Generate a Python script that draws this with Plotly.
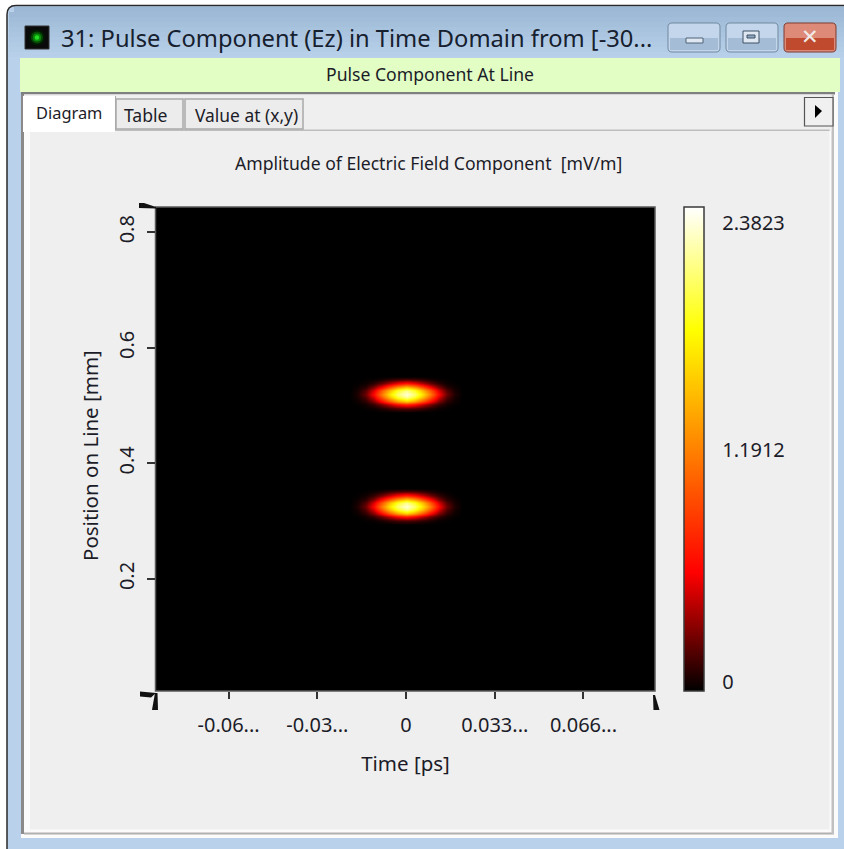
import plotly.graph_objects as go

W, H = 844, 849

# ---------- data ----------
window_title = "31: Pulse Component (Ez) in Time Domain from [-30..."
banner_text = "Pulse Component At Line"
tab_labels = ["Diagram", "Table", "Value at (x,y)"]
chart_title = "Amplitude of Electric Field Component  [mV/m]"
x_title = "Time [ps]"
y_title = "Position on Line [mm]"

x_tick_vals = [-0.066, -0.033, 0, 0.033, 0.066]
x_tick_text = ["-0.06...", "-0.03...", "0", "0.033...", "0.066..."]
y_tick_vals = [0.2, 0.4, 0.6, 0.8]
y_tick_text = ["0.2", "0.4", "0.6", "0.8"]
x_range = [-0.0930, 0.0926]
y_range = [0.0062, 0.8436]

z_min, z_max = 0, 2.3823
colorbar_label_at = [0.044, 1.186, 2.303]
colorbar_text = ["0", "1.1912", "2.3823"]

times = [-0.021, -0.018, -0.015, -0.012, -0.009, -0.006, -0.003, 0.0,
         0.003, 0.006, 0.009, 0.012, 0.015, 0.018, 0.021]

upper_positions = [0.4890, 0.4952, 0.5014, 0.5076, 0.5138, 0.5200,
                   0.5262, 0.5324, 0.5386, 0.5448, 0.5510]
upper_amplitude = [
    [0, 0, 0, 0, 0, 0, 0, 0, 0, 0, 0, 0, 0, 0, 0],
    [0, 0, .01, .03, .07, .13, .18, .20, .18, .13, .07, .03, .01, 0, 0],
    [0, .01, .04, .12, .26, .44, .62, .74, .62, .44, .26, .12, .04, .01, 0],
    [0, .03, .10, .29, .62, .98, 1.32, 1.55, 1.32, .98, .62, .29, .10, .03, 0],
    [0, .05, .18, .49, .97, 1.45, 1.86, 2.12, 1.86, 1.45, .97, .49, .18, .05, 0],
    [0, .07, .25, .62, 1.15, 1.65, 2.05, 2.30, 2.05, 1.65, 1.15, .62, .25, .07, 0],
    [0, .05, .19, .50, .99, 1.45, 1.86, 2.10, 1.86, 1.45, .99, .50, .19, .05, 0],
    [0, .03, .10, .30, .60, .98, 1.32, 1.55, 1.32, .98, .60, .30, .10, .03, 0],
    [0, .01, .03, .10, .23, .40, .58, .70, .58, .40, .23, .10, .03, .01, 0],
    [0, 0, .01, .02, .05, .10, .14, .17, .14, .10, .05, .02, .01, 0, 0],
    [0, 0, 0, 0, 0, 0, 0, 0, 0, 0, 0, 0, 0, 0, 0],
]

lower_positions = [0.2950, 0.3012, 0.3074, 0.3136, 0.3198, 0.3260,
                   0.3322, 0.3384, 0.3446, 0.3508, 0.3570]
lower_amplitude = [
    [0, 0, 0, 0, 0, 0, 0, 0, 0, 0, 0, 0, 0, 0, 0],
    [0, 0, .01, .02, .06, .11, .16, .18, .16, .11, .06, .02, .01, 0, 0],
    [0, .01, .04, .12, .25, .42, .60, .72, .60, .42, .25, .12, .04, .01, 0],
    [0, .03, .11, .30, .60, .98, 1.32, 1.56, 1.32, .98, .60, .30, .11, .03, 0],
    [0, .05, .19, .50, .98, 1.46, 1.86, 2.12, 1.86, 1.46, .98, .50, .19, .05, 0],
    [0, .07, .25, .62, 1.15, 1.65, 2.05, 2.30, 2.05, 1.65, 1.15, .62, .25, .07, 0],
    [0, .05, .18, .49, .97, 1.45, 1.85, 2.10, 1.85, 1.45, .97, .49, .18, .05, 0],
    [0, .03, .10, .29, .62, .98, 1.32, 1.54, 1.32, .98, .62, .29, .10, .03, 0],
    [0, .01, .04, .12, .26, .44, .62, .74, .62, .44, .26, .12, .04, .01, 0],
    [0, 0, .01, .03, .07, .13, .18, .20, .18, .13, .07, .03, .01, 0, 0],
    [0, 0, 0, 0, 0, 0, 0, 0, 0, 0, 0, 0, 0, 0, 0],
]

hot_scale = [[0, "#000000"], [0.245, "#ff0000"], [0.745, "#ffff00"], [1, "#ffffff"]]

# ---------- window chrome helpers (pixel coordinates of the page) ----------
FONT = "Noto Sans"
INK = "#1c1c28"


def px(x):
    return x / W


def py(y):
    return 1 - y / H


shapes = []
annotations = []


def rect(x0, y0, x1, y1, fill, line=None, lw=1, layer="below"):
    shapes.append(dict(type="rect", xref="paper", yref="paper", layer=layer,
                       x0=px(x0), x1=px(x1), y0=py(y1), y1=py(y0),
                       fillcolor=fill, line=dict(color=line or fill, width=lw if line else 0)))


def path(points, fill, layer="above"):
    d = "M" + " L".join(f"{px(a):.5f},{py(b):.5f}" for a, b in points) + " Z"
    shapes.append(dict(type="path", xref="paper", yref="paper", layer=layer, path=d,
                       fillcolor=fill, line=dict(width=0)))


def rounded(x0, y0, x1, y1, r, fill, line, lw=1):
    def p(a, b):
        return f"{px(a):.5f},{py(b):.5f}"
    d = (f"M{p(x0 + r, y0)} L{p(x1 - r, y0)} Q{p(x1, y0)} {p(x1, y0 + r)} "
         f"L{p(x1, y1 - r)} Q{p(x1, y1)} {p(x1 - r, y1)} L{p(x0 + r, y1)} "
         f"Q{p(x0, y1)} {p(x0, y1 - r)} L{p(x0, y0 + r)} Q{p(x0, y0)} {p(x0 + r, y0)} Z")
    shapes.append(dict(type="path", xref="paper", yref="paper", layer="below", path=d,
                       fillcolor=fill, line=dict(color=line, width=lw)))


def text(x, y, s, size, anchor="center", color=INK, angle=0):
    annotations.append(dict(x=px(x), y=py(y), xref="paper", yref="paper", text=s,
                            showarrow=False, xanchor=anchor, yanchor="middle", textangle=angle,
                            font=dict(family=FONT, size=size, color=color)))


# window body and title-bar gradient
rounded(7, 5.5, 870, 880, 9, "#b9d1ea", "#2a2a2a", 1.5)
bands = ["#9cb8d4", "#9fbad6", "#a2bdd9", "#a5c0db", "#a8c3de", "#abc5e0",
         "#aec8e3", "#b1cbe5", "#b4cde7", "#b7cfe9"]
for i, c in enumerate(bands):
    rect(9 if i else 14, 7 + i * 5, 844, 12 + i * 5, c)

# title icon
rect(25, 26, 49, 49, "#0a0a0a", "#333333", 1)
for r, c in [(8, "#021a02"), (6, "#064a06"), (4, "#0c8a0c"), (2.2, "#22dd22")]:
    shapes.append(dict(type="circle", xref="paper", yref="paper", layer="below",
                       x0=px(37 - r), x1=px(37 + r), y0=py(37.5 + r), y1=py(37.5 - r),
                       fillcolor=c, line=dict(width=0)))
text(59, 38, window_title, 23.7, anchor="left", color="#16202e")

# caption buttons
for x0 in (668, 726):
    rounded(x0, 23, x0 + 52, 52, 4, "#c3d6eb", "#70889f", 1)
    rect(x0 + 2, 38, x0 + 50, 50, "#a4bcd6")
rounded(784, 23, 836, 52, 4, "#dd8a78", "#7d3a30", 1)
rect(786, 38, 834, 50, "#bf4a2e")
rect(686, 38, 703, 43, "#dfe8f2", "#4f6277", 1)
rect(743, 31, 759, 43, "#dfe8f2", "#3f5064", 1)
rect(747, 35, 755, 38, "#8fa8c2", "#3f5064", 1)
text(810, 36.5, "✕", 21, color="#f2eae8")

# green banner
rect(20, 58, 840, 92, "#e2fec4")
text(430, 74.5, banner_text, 17.6)

# panel, with its shaded frame
rect(21, 92, 838, 838, "#fbfbfb")
rect(21, 92, 24, 834, "#8a8a8a")
rect(21, 92, 835, 94.5, "#7f7f7f")
rect(24, 832.5, 834, 834.5, "#b0b0b0")
rect(831.5, 94, 834, 834, "#c0c0c0")
rect(24, 94.5, 831.5, 131, "#efefef")
rect(30, 131, 829.5, 829.5, "#efefef")
rect(115, 129.5, 829.5, 131, "#bdbdbd")

# tabs
rect(116, 99, 183, 129, "#ececec", "#a9a9a9", 1.5)
rect(185, 99, 303, 129, "#ececec", "#a9a9a9", 1.5)
rect(23, 96, 115, 132, "#ffffff")
rect(115, 96, 116, 130, "#a9a9a9")
for x, s, y, fs in [(69, tab_labels[0], 112, 16.4), (146, tab_labels[1], 115, 17.6),
                    (246, tab_labels[2], 115, 17.4)]:
    text(x, y, s, fs)

# overflow arrow button
rect(804.5, 97.5, 833, 126, "#f0f0f0", "#555555", 1.2)
path([(815, 105), (822, 111), (815, 118)], "#000000")

# plot background and corner wedges
rect(155.5, 207, 655, 691, "#000000", "#5a5a5a", 1.5)
path([(140, 691.5), (156, 693), (151, 697.5), (140, 696.5)], "#111111")
path([(155, 693), (157.5, 693), (158, 710), (152, 710)], "#111111")
path([(139, 203), (144, 203), (156, 207), (156, 208.5), (139, 208)], "#111111")
path([(653, 695), (655, 695), (659.5, 710), (653.5, 710)], "#111111")

text(429, 163, chart_title, 17.6)
text(90, 456, y_title, 20.5, angle=-90)

# ---------- the chart ----------
fig = go.Figure()
for pos, amp in [(upper_positions, upper_amplitude), (lower_positions, lower_amplitude)]:
    fig.add_trace(go.Heatmap(x=times, y=pos, z=amp, coloraxis="coloraxis",
                             zsmooth="best", hoverinfo="skip"))

fig.update_layout(
    width=W, height=H, margin=dict(l=0, r=0, t=0, b=0, pad=0),
    paper_bgcolor="#ffffff", plot_bgcolor="#000000", showlegend=False,
    font=dict(family=FONT, size=20, color=INK),
    shapes=shapes, annotations=annotations,
    coloraxis=dict(
        cmin=z_min, cmax=z_max, colorscale=hot_scale,
        colorbar=dict(
            x=px(684), xanchor="left", xpad=0, xref="paper",
            y=py(207), yanchor="top", ypad=0, yref="paper",
            len=484 / H, lenmode="fraction", thickness=20, thicknessmode="pixels",
            outlinewidth=1.5, outlinecolor="#3a3a3a", borderwidth=0,
            tickmode="array", tickvals=colorbar_label_at, ticktext=colorbar_text,
            ticks="outside", ticklen=14, tickcolor="rgba(0,0,0,0)",
            tickfont=dict(family=FONT, size=20, color=INK),
        ),
    ),
    xaxis=dict(
        domain=[px(156), px(655)], range=x_range, tickmode="array",
        tickvals=x_tick_vals, ticktext=x_tick_text, ticks="outside", ticklen=7,
        tickwidth=1.5, tickcolor="#333333", ticklabelstandoff=9, showgrid=False,
        zeroline=False, showline=False, tickangle=0,
        tickfont=dict(family=FONT, size=20, color=INK),
        title=dict(text=x_title, standoff=19, font=dict(family=FONT, size=20.5, color=INK)),
    ),
    yaxis=dict(
        domain=[py(691), py(207)], range=y_range, tickmode="array",
        tickvals=y_tick_vals, ticktext=y_tick_text, ticks="outside", ticklen=8,
        tickwidth=1.5, tickcolor="#333333", ticklabelstandoff=5, showgrid=False,
        zeroline=False, showline=False, tickangle=-90,
        tickfont=dict(family=FONT, size=20, color=INK),
    ),
)

fig.write_html("out.html", config=dict(displayModeBar=False),
               post_script="document.body.style.margin='0';document.body.style.overflow='hidden';")
